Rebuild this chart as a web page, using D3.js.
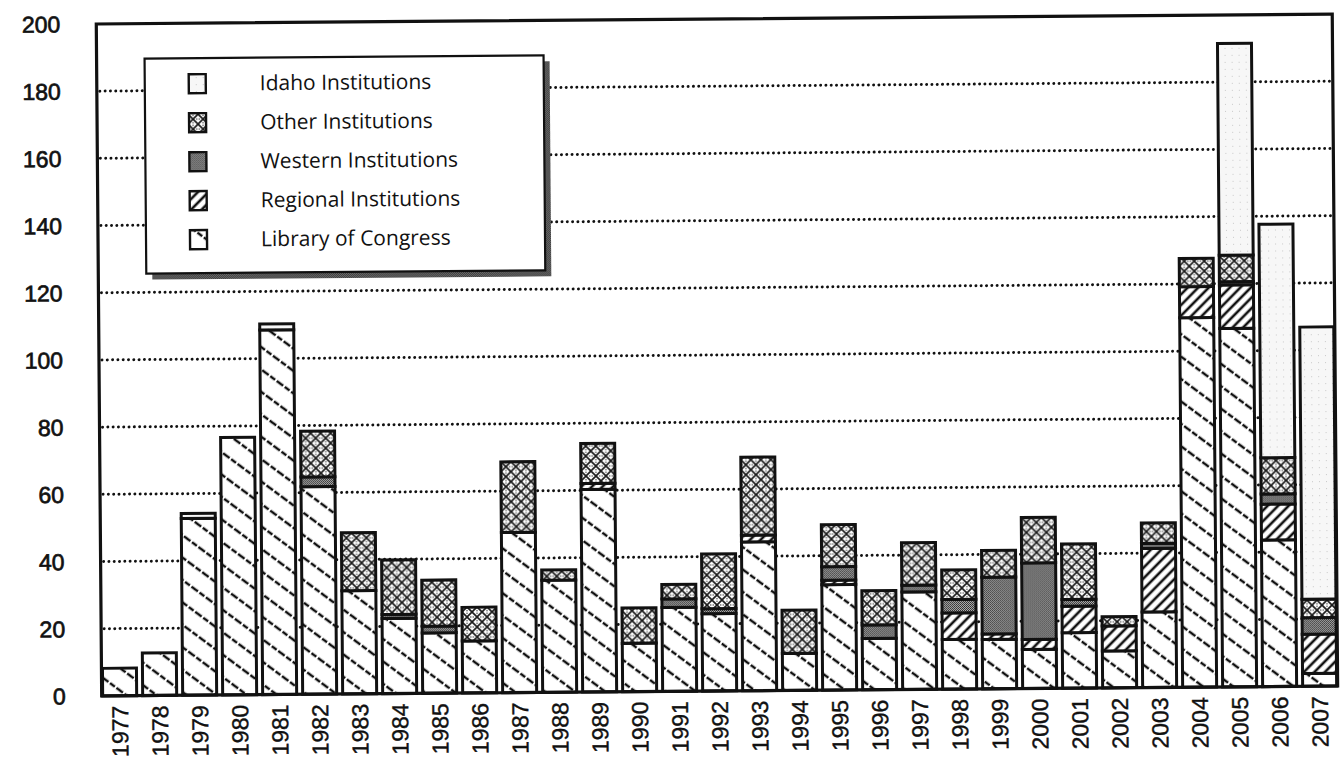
<!DOCTYPE html>
<html><head><meta charset="utf-8">
<script src="https://cdn.jsdelivr.net/npm/d3@7"></script>
<style>body{margin:0;background:#fff}svg{display:block}</style>
</head><body>
<svg id="chart" width="1340" height="772"></svg>
<script>
const years = ["1977","1978","1979","1980","1981","1982","1983","1984","1985","1986","1987","1988","1989","1990","1991","1992","1993","1994","1995","1996","1997","1998","1999","2000","2001","2002","2003","2004","2005","2006","2007"];
const libraryOfCongress = [8.2,12.7,52.6,76.6,108.5,61.8,30.7,22.4,18,15.5,47.7,33.4,60.3,14.4,25,23,44.3,11,31.4,15.3,29,14.8,14.7,11.6,16.5,11,22.5,110,106.7,43.6,3.8];
const regionalInst   = [0,0,0,0,0,0,0,0,0,0,0,0,1.8,0,0,0,2,0,1.3,0,0,7.9,1.6,3,7.9,7.4,18.9,9.2,12.9,10.7,11.7];
const westernInst    = [0,0,0,0,0,2.9,0,1.2,2,0,0,0,0,0,2.5,1.5,0,0,4,4,2,4,16.9,22.8,2,0,1.5,0,1,3,4.9];
const otherInst      = [0,0,0,0,0,13.6,17.3,16.2,13.7,10,21,3,11.9,10.5,4.3,16.3,23.2,12.9,12.5,10.2,12.7,8.8,8,13.5,16.5,2.8,6.1,8.4,7.9,10.8,5.5];
const idahoInst      = [0,0,1.5,0,1.8,0,0,0,0,0,0,0,0,0,0,0,0,0,0,0,0,0,0,0,0,0,0,0,63,69.5,81];
const yTicks = [0,20,40,60,80,100,120,140,160,180,200];
const seriesKeys = ["loc","reg","wes","oth","ida"];
const legendLabels = ["Idaho Institutions","Other Institutions","Western Institutions","Regional Institutions","Library of Congress"];
const legendKeys = ["ida","oth","wes","reg","loc"];

const table = years.map((yr,i)=>({year:yr, loc:libraryOfCongress[i], reg:regionalInst[i], wes:westernInst[i], oth:otherInst[i], ida:idahoInst[i]}));

const svg = d3.select("#chart");
const defs = svg.append("defs");

// patterns
const pLoc = defs.append("pattern").attr("id","p-loc").attr("patternUnits","userSpaceOnUse")
  .attr("width",18).attr("height",18).attr("patternTransform","rotate(37)");
pLoc.append("rect").attr("width",18).attr("height",18).attr("fill","#fff");
pLoc.append("line").attr("x1",0).attr("x2",18).attr("y1",9).attr("y2",9)
  .attr("stroke","#111").attr("stroke-width",2.4).attr("stroke-dasharray","6 2");

const pReg = defs.append("pattern").attr("id","p-reg").attr("patternUnits","userSpaceOnUse")
  .attr("width",7.5).attr("height",7.5).attr("patternTransform","rotate(-45)");
pReg.append("rect").attr("width",7.5).attr("height",7.5).attr("fill","#fff");
pReg.append("line").attr("x1",0).attr("x2",7.5).attr("y1",3.75).attr("y2",3.75)
  .attr("stroke","#111").attr("stroke-width",2.6);

const pWes = defs.append("pattern").attr("id","p-wes").attr("patternUnits","userSpaceOnUse")
  .attr("width",2).attr("height",2);
pWes.append("rect").attr("width",2).attr("height",2).attr("fill","#b0b0b0");
pWes.append("rect").attr("width",1).attr("height",1).attr("fill","#2a2a2a");
pWes.append("rect").attr("x",1).attr("y",1).attr("width",1).attr("height",1).attr("fill","#3a3a3a");

const pOth = defs.append("pattern").attr("id","p-oth").attr("patternUnits","userSpaceOnUse")
  .attr("width",10).attr("height",10);
pOth.append("rect").attr("width",10).attr("height",10).attr("fill","#fff");
pOth.append("path").attr("d","M0,0L10,10M10,0L0,10").attr("stroke","#1a1a1a").attr("stroke-width",1.7);
[[5,1.2],[5,8.8],[1.2,5],[8.8,5]].forEach(([cx,cy])=>
  pOth.append("circle").attr("cx",cx).attr("cy",cy).attr("r",0.7).attr("fill","#333"));

const pIda = defs.append("pattern").attr("id","p-ida").attr("patternUnits","userSpaceOnUse")
  .attr("width",7).attr("height",7);
pIda.append("rect").attr("width",7).attr("height",7).attr("fill","#f7f7f7");
pIda.append("rect").attr("x",2).attr("y",3).attr("width",1).attr("height",1).attr("fill","#c8c8c8");

const pShadow = defs.append("pattern").attr("id","p-shadow").attr("patternUnits","userSpaceOnUse")
  .attr("width",2).attr("height",2);
pShadow.append("rect").attr("width",2).attr("height",2).attr("fill","#888");
pShadow.append("rect").attr("width",1).attr("height",1).attr("fill","#222");
pShadow.append("rect").attr("x",1).attr("y",1).attr("width",1).attr("height",1).attr("fill","#222");

const fills = {loc:"url(#p-loc)", reg:"url(#p-reg)", wes:"url(#p-wes)", oth:"url(#p-oth)", ida:"url(#p-ida)"};

// slight scan rotation of the reference
const g = svg.append("g").attr("transform","rotate(-0.46,716,360)");

const x = d3.scaleBand().domain(years).range([99,1335]).paddingInner(0.1).paddingOuter(0);
const y = d3.scaleLinear().domain([0,200]).range([691,19]);

// gridlines
g.append("g").selectAll("line").data(yTicks.filter(v=>v>0 && v<200)).join("line")
  .attr("x1",x.range()[0]+3).attr("x2",x.range()[1]-2)
  .attr("y1",d=>y(d)).attr("y2",d=>y(d))
  .attr("stroke","#111").attr("stroke-width",3)
  .attr("stroke-linecap","round").attr("stroke-dasharray","0 5.3");

// bars
const stack = d3.stack().keys(seriesKeys)(table);
const barG = g.append("g");
stack.forEach(layer=>{
  barG.append("g").selectAll("rect")
    .data(layer.filter(d=>d[1]-d[0]>0))
    .join("rect")
    .attr("x",d=>x(d.data.year)+1)
    .attr("width",x.bandwidth()-2)
    .attr("y",d=>y(d[1]))
    .attr("height",d=>y(d[0])-y(d[1]))
    .attr("fill",fills[layer.key])
    .attr("stroke","#111").attr("stroke-width",3);
});

// frame
g.append("rect").attr("x",x.range()[0]).attr("y",y(200))
  .attr("width",x.range()[1]-x.range()[0]).attr("height",y(0)-y(200))
  .attr("fill","none").attr("stroke","#111").attr("stroke-width",3.2);

// y labels
g.append("g").selectAll("text").data(yTicks).join("text")
  .attr("x",63).attr("y",d=>y(d)).attr("dy","0.36em")
  .attr("text-anchor","end")
  .attr("font-family","'Liberation Sans',Arial,sans-serif").attr("font-size",23)
  .attr("fill","#111").attr("stroke","#111").attr("stroke-width",0.7).text(d=>d);

// x labels
g.append("g").selectAll("text").data(years).join("text")
  .attr("transform",d=>`translate(${x(d)+x.bandwidth()/2},701) rotate(-90)`)
  .attr("dy","0.36em").attr("text-anchor","end")
  .attr("font-family","'Liberation Sans',Arial,sans-serif").attr("font-size",23)
  .attr("fill","#111").attr("stroke","#111").attr("stroke-width",0.4).text(d=>d);

// legend
const lg = g.append("g");
lg.append("rect").attr("x",153).attr("y",60).attr("width",399).attr("height",215).attr("fill","url(#p-shadow)");
lg.append("rect").attr("x",147).attr("y",54).attr("width",399).attr("height",215)
  .attr("fill","#fff").attr("stroke","#111").attr("stroke-width",2.2);
legendKeys.forEach((k,i)=>{
  const cy = 79 + i*39;
  lg.append("rect").attr("x",191).attr("y",cy-9).attr("width",17).attr("height",19)
    .attr("fill",fills[k]).attr("stroke","#111").attr("stroke-width",2.4);
  lg.append("text").attr("x",262).attr("y",cy).attr("dy","0.36em")
    .attr("font-family","'Open Sans',sans-serif").attr("font-size",21)
    .attr("fill","#111").text(legendLabels[i]);
});
</script>
</body></html>
